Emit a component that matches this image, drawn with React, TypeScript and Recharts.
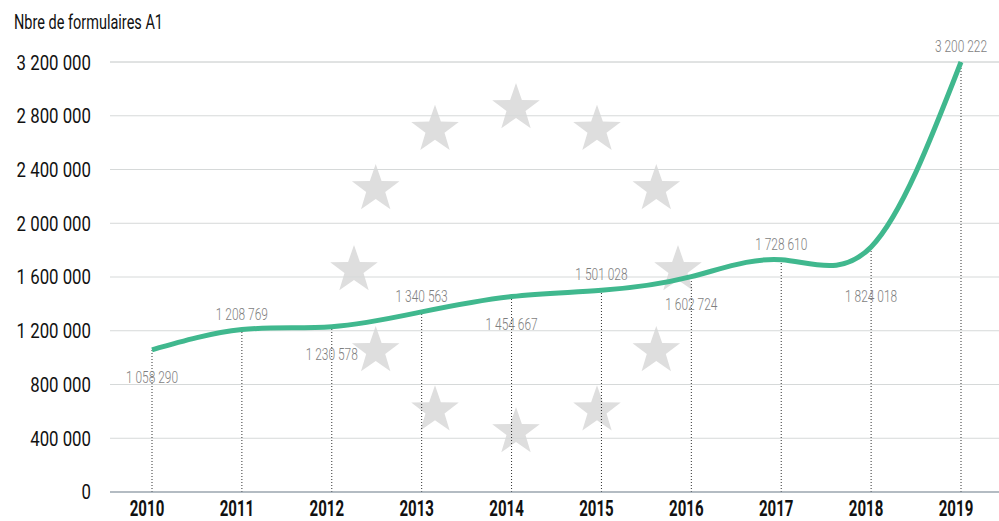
import { LineChart, Line, XAxis, YAxis, CartesianGrid, ReferenceLine, LabelList } from 'recharts';

const years = ['2010', '2011', '2012', '2013', '2014', '2015', '2016', '2017', '2018', '2019'];
const forms = [1058290, 1208769, 1230578, 1340563, 1454667, 1501028, 1602724, 1728610, 1824018, 3200222];
const yTicks = [0, 400000, 800000, 1200000, 1600000, 2000000, 2400000, 2800000, 3200000];

const data = years.map((year, i) => ({ year, value: forms[i] }));

const FONT = "Roboto, 'Noto Sans', sans-serif";

const fmt = (n: number) => String(n).replace(/\B(?=(\d{3})+(?!\d))/g, ' ');

// EU-flag style ring of stars, purely decorative
const Stars = () => {
    const cx = 516;
    const cy = 270;
    const r = 162;
    const star = (sx: number, sy: number, R: number) => {
        const pts: string[] = [];
        for (let k = 0; k < 10; k++) {
            const rad = k % 2 === 0 ? R : R * 0.4;
            const a = -Math.PI / 2 + (k * Math.PI) / 5;
            pts.push(`${sx + rad * Math.cos(a)},${sy + rad * Math.sin(a)}`);
        }
        return pts.join(' ');
    };
    return (
        <svg width={999} height={521} style={{ position: 'absolute', left: 0, top: 0 }}>
            {Array.from({ length: 12 }).map((_, i) => {
                const a = (i * Math.PI) / 6;
                return <polygon key={i} points={star(cx + r * Math.sin(a), cy - r * Math.cos(a), 25)} fill="#dedede" />;
            })}
            {/* title, condensed by squeezing the glyphs */}
            <text x={14} y={29} fontFamily={FONT} fontSize={19.5} fill="#111" textLength={149} lengthAdjust="spacingAndGlyphs">
                Nbre de formulaires A1
            </text>
        </svg>
    );
};

// all chart text is a narrow font in the original: fake it with a horizontal squeeze
const XTick = (props: any) => {
    const { x, y, payload } = props;
    return (
        <text
            transform={`translate(${x - 5},${y}) scale(0.7,1)`}
            textAnchor="middle"
            dy="0.71em"
            fill="#111"
            fontSize={21.5}
            fontWeight={700}
            fontFamily={FONT}
        >
            {payload.value}
        </text>
    );
};

const YTick = (props: any) => {
    const { x, y, payload } = props;
    return (
        <text
            transform={`translate(${x},${y}) scale(0.8,1)`}
            textAnchor="end"
            dy="0.355em"
            fill="#111"
            fontSize={21}
            fontFamily={FONT}
        >
            {fmt(payload.value)}
        </text>
    );
};

const ValueLabel = (props: any) => {
    const { x, y, value, index } = props;
    const above = index % 2 === 1;
    let dy = above ? -16 : 27;
    if (index === 8) dy = 49;
    return (
        <text
            transform={`translate(${x},${y + dy}) scale(0.69,1)`}
            textAnchor="middle"
            dy="0.355em"
            fill="#7e7e7e"
            fontSize={17.3}
            fontWeight={300}
            fontFamily={FONT}
        >
            {fmt(value)}
        </text>
    );
};

export default function App() {
    return (
        <div style={{ position: 'absolute', left: 0, top: 0, width: 999, height: 521, background: '#fff' }}>
            <Stars />
            <div style={{ position: 'absolute', left: 0, top: 0 }}>
                <LineChart width={999} height={521} data={data} margin={{ top: 62, right: 0, bottom: 0, left: 0 }}>
                    <CartesianGrid vertical={false} stroke="#d6d9d9" />
                    <XAxis
                        dataKey="year"
                        scale="point"
                        padding={{ left: 42, right: 38 }}
                        height={29}
                        axisLine={{ stroke: '#7d8b99' }}
                        tickLine={false}
                        tickMargin={3}
                        tick={<XTick />}
                    />
                    <YAxis
                        width={110}
                        domain={[0, 3200000]}
                        ticks={yTicks}
                        interval={0}
                        axisLine={false}
                        tickLine={false}
                        tickSize={6}
                        tickMargin={13}
                        tick={<YTick />}
                    />
                    {data.map(d => (
                        <ReferenceLine
                            key={d.year}
                            segment={[{ x: d.year, y: 0 }, { x: d.year, y: d.value }]}
                            stroke="#333"
                            strokeDasharray="1 2"
                        />
                    ))}
                    <Line
                        type="natural"
                        dataKey="value"
                        stroke="#40b88e"
                        strokeWidth={5}
                        dot={false}
                        isAnimationActive={false}
                    >
                        <LabelList dataKey="value" content={<ValueLabel />} />
                    </Line>
                </LineChart>
            </div>
        </div>
    );
}
